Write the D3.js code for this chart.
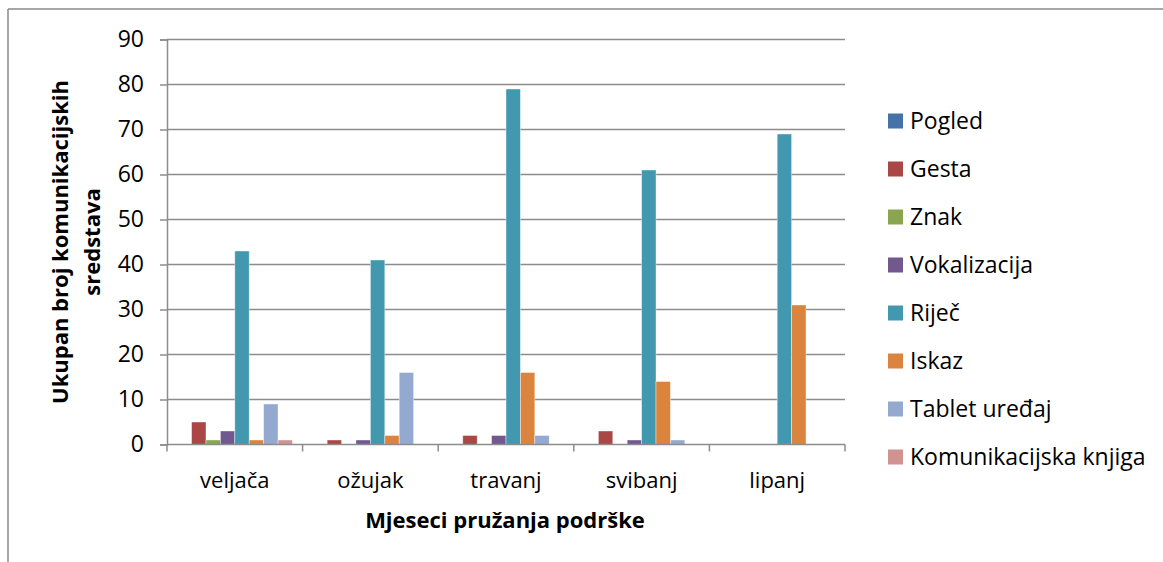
<!DOCTYPE html>
<html><head><meta charset="utf-8">
<script src="https://cdn.jsdelivr.net/npm/d3@7/dist/d3.min.js"></script>
<style>
html,body{margin:0;padding:0;background:#fff;}
svg{display:block;font-family:"Open Sans",sans-serif;}
</style></head>
<body><svg id="c" width="1163" height="562"></svg>
<script>
const categories = ["veljača","ožujak","travanj","svibanj","lipanj"];
const seriesNames = ["Pogled","Gesta","Znak","Vokalizacija","Riječ","Iskaz","Tablet uređaj","Komunikacijska knjiga"];
const pogled = [0,0,0,0,0];
const gesta = [5,1,2,3,0];
const znak = [1,0,0,0,0];
const vokalizacija = [3,1,2,1,0];
const rijec = [43,41,79,61,69];
const iskaz = [1,2,16,14,31];
const tablet = [9,16,2,1,0];
const knjiga = [1,0,0,0,0];
const seriesValues = [pogled,gesta,znak,vokalizacija,rijec,iskaz,tablet,knjiga];
const colors = ["#4572A7","#AA4643","#89A54E","#71588F","#4198AF","#DB843D","#93A9CF","#D19392"];
const yTicks = [0,10,20,30,40,50,60,70,80,90];
const yTitle = ["Ukupan broj komunikacijskih","sredstava"];
const xTitle = "Mjeseci pružanja podrške";

const svg = d3.select("#c");
const plot = {left:167, right:845, top:39.5, bottom:444.5};

// outer frame (top and left edges visible)
svg.append("line").attr("x1",8).attr("y1",9).attr("x2",1163).attr("y2",9).attr("stroke","#8a8a8a").attr("stroke-width",1.5);
svg.append("line").attr("x1",8).attr("y1",9).attr("x2",8).attr("y2",562).attr("stroke","#8a8a8a").attr("stroke-width",1.5);

const x0 = d3.scaleBand().domain(categories).range([plot.left,plot.right]).paddingInner(0.15).paddingOuter(0.075);
const x1 = d3.scaleBand().domain(seriesNames).range([0,x0.bandwidth()]);
const y = d3.scaleLinear().domain([0,90]).range([plot.bottom,plot.top]);

// gridlines
svg.append("g").selectAll("line").data(yTicks.filter(d=>d>0)).join("line")
  .attr("x1",plot.left).attr("x2",plot.right)
  .attr("y1",d=>y(d)).attr("y2",d=>y(d))
  .attr("stroke","#8c8c8c").attr("stroke-width",1.5);

// y axis
const yAxis = svg.append("g").attr("transform",`translate(${plot.left},0)`)
  .call(d3.axisLeft(y).tickValues(yTicks).tickSize(7).tickPadding(16).tickFormat(d3.format("d")));
yAxis.select(".domain").attr("stroke","#8c8c8c").attr("stroke-width",1.5);
yAxis.selectAll(".tick line").attr("stroke","#8c8c8c").attr("stroke-width",1.5);
yAxis.selectAll("text").attr("font-size",23).attr("fill","#000").attr("font-family","Open Sans");

// bars
const groups = svg.append("g").selectAll("g").data(categories).join("g")
  .attr("transform",d=>`translate(${x0(d)},0)`);
groups.selectAll("rect").data((c,i)=>seriesNames.map((s,j)=>({s, v:seriesValues[j][i], c:colors[j]}))).join("rect")
  .attr("x",d=>x1(d.s)).attr("width",x1.bandwidth())
  .attr("y",d=>y(d.v)).attr("height",d=>y(0)-y(d.v))
  .attr("fill",d=>d.c).attr("stroke","rgba(255,255,255,0.5)").attr("stroke-width",0.8);

// x axis
const xAxis = svg.append("g").attr("transform",`translate(0,${plot.bottom})`)
  .call(d3.axisBottom(d3.scaleBand().domain(categories).range([plot.left,plot.right])).tickSize(0).tickPadding(28));
xAxis.select(".domain").remove();
xAxis.selectAll("text").attr("font-size",22).attr("fill","#000").attr("font-family","Open Sans");
// x tick marks at category boundaries
const xb = d3.scaleLinear().domain([0,categories.length]).range([plot.left,plot.right]);
svg.append("line").attr("x1",plot.left).attr("x2",plot.right).attr("y1",plot.bottom).attr("y2",plot.bottom).attr("stroke","#8c8c8c").attr("stroke-width",1.5);
svg.append("g").selectAll("line").data(d3.range(categories.length+1)).join("line")
  .attr("x1",d=>xb(d)).attr("x2",d=>xb(d)).attr("y1",plot.bottom).attr("y2",plot.bottom+7)
  .attr("stroke","#8c8c8c").attr("stroke-width",1.5);

// axis titles
const yt = svg.append("text").attr("transform",`translate(60,${(plot.top+plot.bottom)/2}) rotate(-90)`)
  .attr("text-anchor","middle").attr("font-weight","bold").attr("font-size",22).attr("fill","#000");
yt.selectAll("tspan").data(yTitle).join("tspan").attr("x",0).attr("dy",(d,i)=>i===0?"0.35em":"1.45em").text(d=>d);

svg.append("text").attr("x",505).attr("y",528).attr("text-anchor","middle")
  .attr("font-weight","bold").attr("font-size",22).attr("fill","#000").text(xTitle);

// legend
const lg = svg.append("g").selectAll("g").data(seriesNames).join("g")
  .attr("transform",(d,i)=>`translate(888,${121+i*48})`);
lg.append("rect").attr("x",0).attr("y",-7.5).attr("width",15).attr("height",15).attr("fill",(d,i)=>colors[i]);
lg.append("text").attr("x",22).attr("y",0).attr("dy","0.36em").attr("font-size",23).attr("fill","#000").text(d=>d);
</script></body></html>
